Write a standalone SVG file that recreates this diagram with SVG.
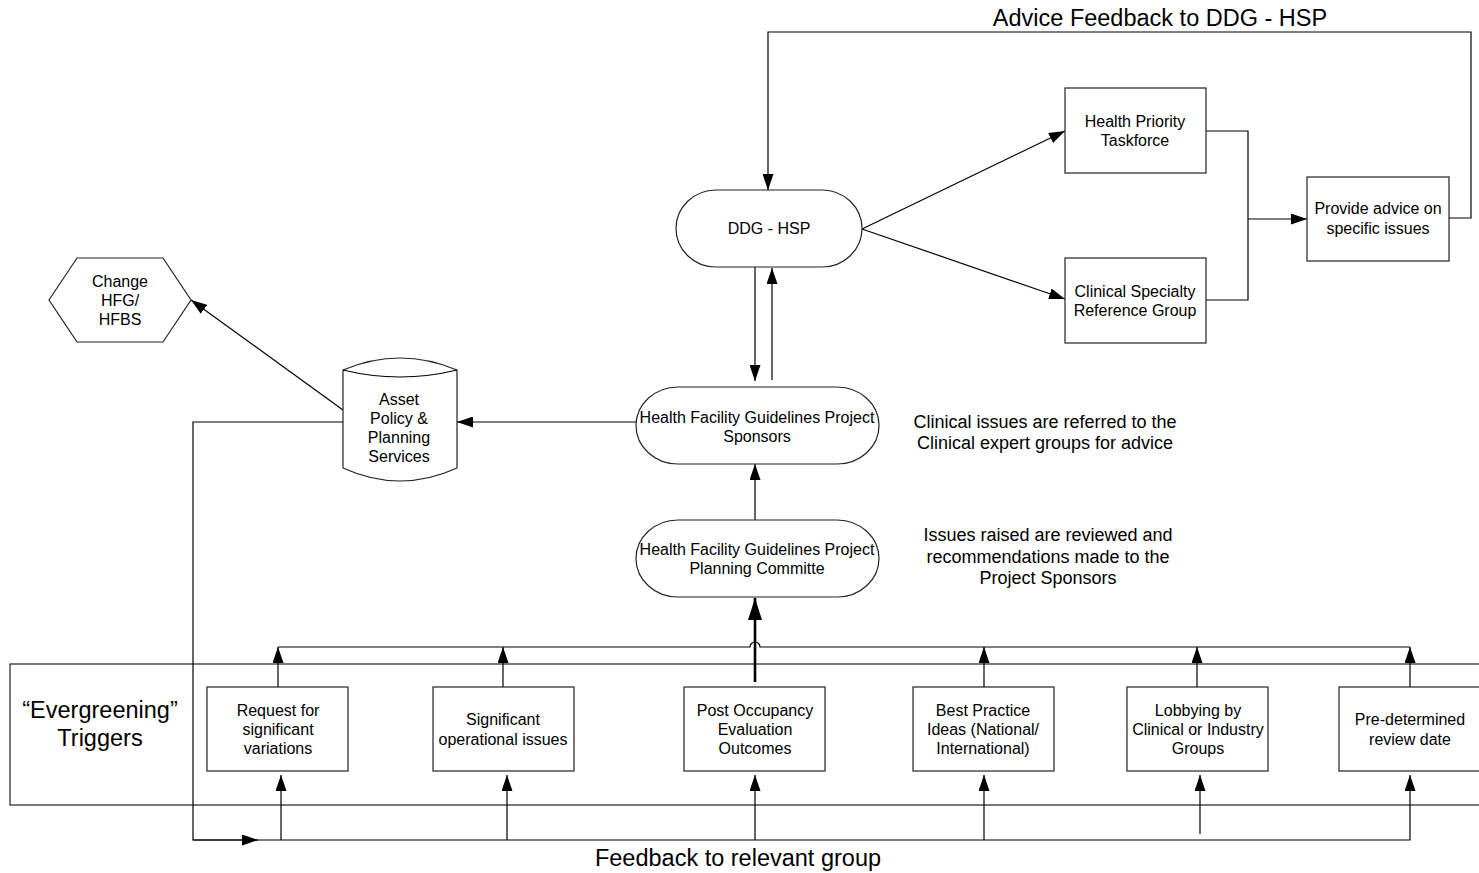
<svg xmlns="http://www.w3.org/2000/svg" width="1479" height="873" viewBox="0 0 1479 873">
<style>
.n{fill:#fff;stroke:#222;stroke-width:1.2}
.c{fill:none;stroke:#000;stroke-width:1.2}
.ct{fill:none;stroke:#000;stroke-width:2.6}
text{font-family:"Liberation Sans",Arial,sans-serif;fill:#000;text-anchor:middle}
.t16{font-size:16px}
.t18{font-size:18px}
.t24{font-size:23.5px}
</style>
<defs>
<marker id="a" markerUnits="userSpaceOnUse" markerWidth="16" markerHeight="11" refX="16" refY="5.5" orient="auto">
<path d="M0,0 L16,5.5 L0,11 z" fill="#000"/>
</marker>
<marker id="ab" markerUnits="userSpaceOnUse" markerWidth="22" markerHeight="14" refX="22" refY="7" orient="auto">
<path d="M0,0 L22,7 L0,14 z" fill="#000"/>
</marker>
</defs>
<rect width="1479" height="873" fill="#fff"/>

<g id="evergreening">
<rect class="n" x="10" y="664" width="1485" height="141" fill="none" style="fill:none"/>
<text class="t24" x="100" y="718">“Evergreening”</text>
<text class="t24" x="100" y="746">Triggers</text>
</g>

<g id="connectors">
<path class="c" d="M1449,218 H1471 V32 H768 V190" marker-end="url(#a)"/>
<path class="c" d="M862,229 L1065,131" marker-end="url(#a)"/>
<path class="c" d="M862,229 L1065,299" marker-end="url(#a)"/>
<path class="c" d="M1206,131 H1248 V300 H1206"/>
<path class="c" d="M1248,219 H1307" marker-end="url(#a)"/>
<path class="c" d="M755,267 V381" marker-end="url(#a)"/>
<path class="c" d="M772,380 V268" marker-end="url(#a)"/>
<path class="c" d="M636,422 H457" marker-end="url(#a)"/>
<path class="c" d="M343,410 L191,300" marker-end="url(#a)"/>
<path class="c" d="M755,520 V464" marker-end="url(#a)"/>
<path class="c" d="M343,422 H193 V840 H1410 V775" marker-end="url(#a)"/>
<path class="c" d="M193,840 H258" marker-end="url(#a)"/>
<path class="c" d="M281,840 V775" marker-end="url(#a)"/>
<path class="c" d="M507,840 V775" marker-end="url(#a)"/>
<path class="c" d="M755,840 V775" marker-end="url(#a)"/>
<path class="c" d="M984,840 V775" marker-end="url(#a)"/>
<path class="c" d="M1200,834 V775" marker-end="url(#a)"/>
<path class="c" d="M278,647 H750 A5,5 0 0 1 760,647 H1410"/>
<path class="c" d="M278,687 V647" marker-end="url(#a)"/>
<path class="c" d="M503,689 V647" marker-end="url(#a)"/>
<path class="c" d="M984,687 V647" marker-end="url(#a)"/>
<path class="c" d="M1197,687 V647" marker-end="url(#a)"/>
<path class="c" d="M1410,687 V647" marker-end="url(#a)"/>
<path class="ct" d="M755,682 V598" marker-end="url(#ab)"/>
</g>

<g id="title">
<text class="t24" x="1160" y="26">Advice Feedback to DDG - HSP</text>
</g>
<g id="feedback-label">
<text class="t24" x="738" y="866">Feedback to relevant group</text>
</g>

<g id="ddg">
<rect class="n" x="676" y="190" width="186" height="77" rx="40" ry="38.5"/>
<text class="t16" x="769" y="234">DDG - HSP</text>
</g>

<g id="hpt">
<rect class="n" x="1065" y="88" width="141" height="85"/>
<text class="t16" x="1135" y="127">Health Priority</text>
<text class="t16" x="1135" y="146">Taskforce</text>
</g>

<g id="csrg">
<rect class="n" x="1065" y="258" width="141" height="85"/>
<text class="t16" x="1135" y="297">Clinical Specialty</text>
<text class="t16" x="1135" y="316">Reference Group</text>
</g>

<g id="advice">
<rect class="n" x="1307" y="177" width="142" height="84"/>
<text class="t16" x="1378" y="214">Provide advice on</text>
<text class="t16" x="1378" y="234">specific issues</text>
</g>

<g id="sponsors">
<rect class="n" x="636" y="387" width="243" height="77" rx="42" ry="38.5"/>
<text class="t16" x="757" y="423">Health Facility Guidelines Project</text>
<text class="t16" x="757" y="442">Sponsors</text>
</g>

<g id="planning">
<rect class="n" x="636" y="520" width="243" height="77" rx="42" ry="38.5"/>
<text class="t16" x="757" y="555">Health Facility Guidelines Project</text>
<text class="t16" x="757" y="574">Planning Committe</text>
</g>

<g id="asset">
<path class="n" d="M343,370 Q400,346 457,370 V468 Q400,494 343,468 Z"/>
<path class="c" d="M343,370 Q400,384 457,370"/>
<text class="t16" x="399" y="405">Asset</text>
<text class="t16" x="399" y="424">Policy &amp;</text>
<text class="t16" x="399" y="443">Planning</text>
<text class="t16" x="399" y="462">Services</text>
</g>

<g id="change">
<polygon class="n" points="49,300 77,258 163,258 191,300 163,342 77,342"/>
<text class="t16" x="120" y="287">Change</text>
<text class="t16" x="120" y="306">HFG/</text>
<text class="t16" x="120" y="325">HFBS</text>
</g>

<g id="note-clinical">
<text class="t18" x="1045" y="428">Clinical issues are referred to the</text>
<text class="t18" x="1045" y="449">Clinical expert groups for advice</text>
</g>
<g id="note-issues">
<text class="t18" x="1048" y="541">Issues raised are reviewed and</text>
<text class="t18" x="1048" y="563">recommendations made to the</text>
<text class="t18" x="1048" y="584">Project Sponsors</text>
</g>

<g id="t1">
<rect class="n" x="207" y="687" width="141" height="84"/>
<text class="t16" x="278" y="716">Request for</text>
<text class="t16" x="278" y="735">significant</text>
<text class="t16" x="278" y="754">variations</text>
</g>
<g id="t2">
<rect class="n" x="433" y="687" width="141" height="84"/>
<text class="t16" x="503" y="725">Significant</text>
<text class="t16" x="503" y="745">operational issues</text>
</g>
<g id="t3">
<rect class="n" x="684" y="687" width="141" height="84"/>
<text class="t16" x="755" y="716">Post Occupancy</text>
<text class="t16" x="755" y="735">Evaluation</text>
<text class="t16" x="755" y="754">Outcomes</text>
</g>
<g id="t4">
<rect class="n" x="913" y="687" width="141" height="84"/>
<text class="t16" x="983" y="716">Best Practice</text>
<text class="t16" x="983" y="735">Ideas (National/</text>
<text class="t16" x="983" y="754">International)</text>
</g>
<g id="t5">
<rect class="n" x="1127" y="687" width="141" height="84"/>
<text class="t16" x="1198" y="716">Lobbying by</text>
<text class="t16" x="1198" y="735">Clinical or Industry</text>
<text class="t16" x="1198" y="754">Groups</text>
</g>
<g id="t6">
<rect class="n" x="1339" y="687" width="142" height="84"/>
<text class="t16" x="1410" y="725">Pre-determined</text>
<text class="t16" x="1410" y="745">review date</text>
</g>
</svg>
